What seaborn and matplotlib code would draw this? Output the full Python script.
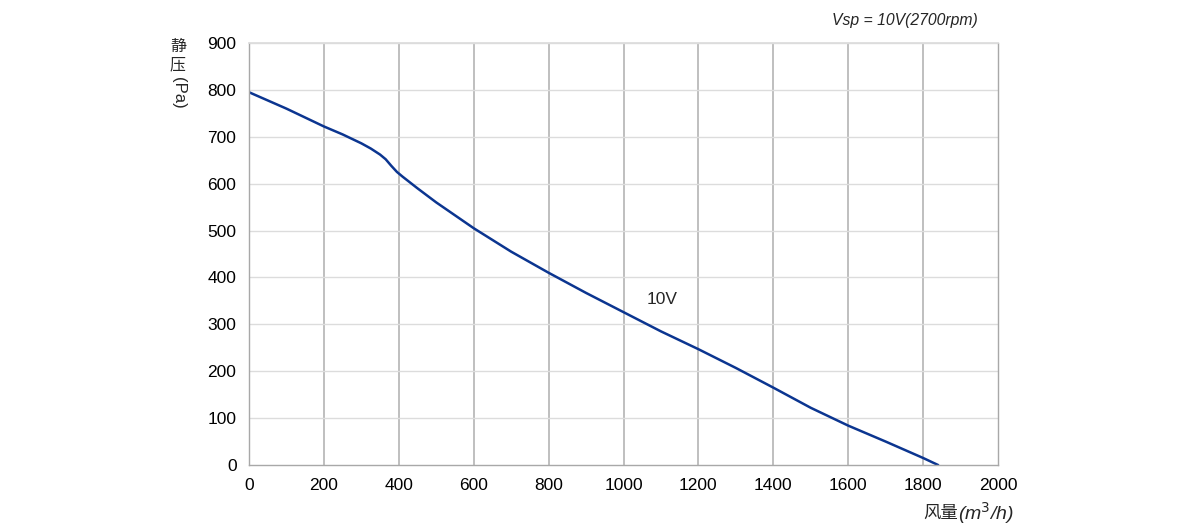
import numpy as np
import pandas as pd
import matplotlib
matplotlib.use('Agg')
import matplotlib.pyplot as plt
from matplotlib.ticker import MultipleLocator
import seaborn as sns

# 曲线数据
flow = [0, 100, 200, 250, 300, 325, 350, 365, 380, 395, 410, 450, 500, 600,
        700, 800, 900, 1000, 1100, 1200, 1300, 1400, 1500, 1600, 1700, 1800, 1840]
pressure = [795, 760, 722, 705, 686, 675, 662, 652, 638, 625, 615, 590, 560, 505,
            455, 410, 367, 326, 285, 247, 207, 165, 122, 84, 50, 15, 0]
curve_label = '10V'
title_text = 'Vsp = 10V(2700rpm)'

df = pd.DataFrame({'风量': flow, '静压': pressure})

sns.set_theme(style='white')
plt.rcParams['font.family'] = ['Liberation Sans', 'Noto Sans CJK SC', 'DejaVu Sans']

fig = plt.figure(figsize=(12, 5.32), dpi=100)
ax = fig.add_axes([0.2075, 0.1259, 0.6242, 0.7933])

sns.lineplot(data=df, x='风量', y='静压', color='#0b3590', linewidth=1.8, ax=ax)

ax.set_xlim(0, 2000)
ax.set_ylim(0, 900)
ax.xaxis.set_major_locator(MultipleLocator(200))
ax.xaxis.set_minor_locator(MultipleLocator(40))
ax.yaxis.set_major_locator(MultipleLocator(100))
ax.yaxis.set_minor_locator(MultipleLocator(20))

ax.grid(False)
for xv in range(200, 2000, 200):
    ax.axvline(xv, color='#b4b4b4', linewidth=1.2, zorder=0)
for yv in range(100, 901, 100):
    ax.axhline(yv, color='#dcdcdc', linewidth=1.0, zorder=0)

for side in ['left', 'bottom', 'right']:
    ax.spines[side].set_color('#a8a8a8')
    ax.spines[side].set_linewidth(1.0)
ax.spines['top'].set_color('#dcdcdc')

ax.tick_params(axis='both', which='major', direction='out', length=5, width=1,
               color='#a8a8a8', labelsize=12.5, labelcolor='black', pad=4)
ax.tick_params(axis='both', which='minor', direction='out', length=3, width=0.8,
               color='#a8a8a8')

ax.set_xlabel('')
ax.set_ylabel('')

ax.text(1103, 354, curve_label, fontsize=12.5, ha='center', va='center')

# 纵轴标题（竖排）
fig.text(178 / 1200, 1 - 46 / 532, '静', fontsize=11.5, ha='center', va='center',
         family=['Noto Sans CJK SC'])
fig.text(178 / 1200, 1 - 65 / 532, '压', fontsize=11.5, ha='center', va='center',
         family=['Noto Sans CJK SC'])
fig.text(178 / 1200, 1 - 93 / 532, '(Pa)', fontsize=12, ha='center', va='center',
         rotation=-90)

# 横轴标题
fig.text(958 / 1200, 1 - 513 / 532, '风量', fontsize=12.5, ha='right',
         va='center', family=['Noto Sans CJK SC'])
fig.text(958 / 1200, 1 - 513 / 532, '(m$^3$/h)', fontsize=14, ha='left',
         va='center', style='italic')

fig.text(978 / 1200, 1 - 20 / 532, title_text, fontsize=11.3, ha='right',
         va='center', style='italic')

fig.savefig('out.png', dpi=100)
